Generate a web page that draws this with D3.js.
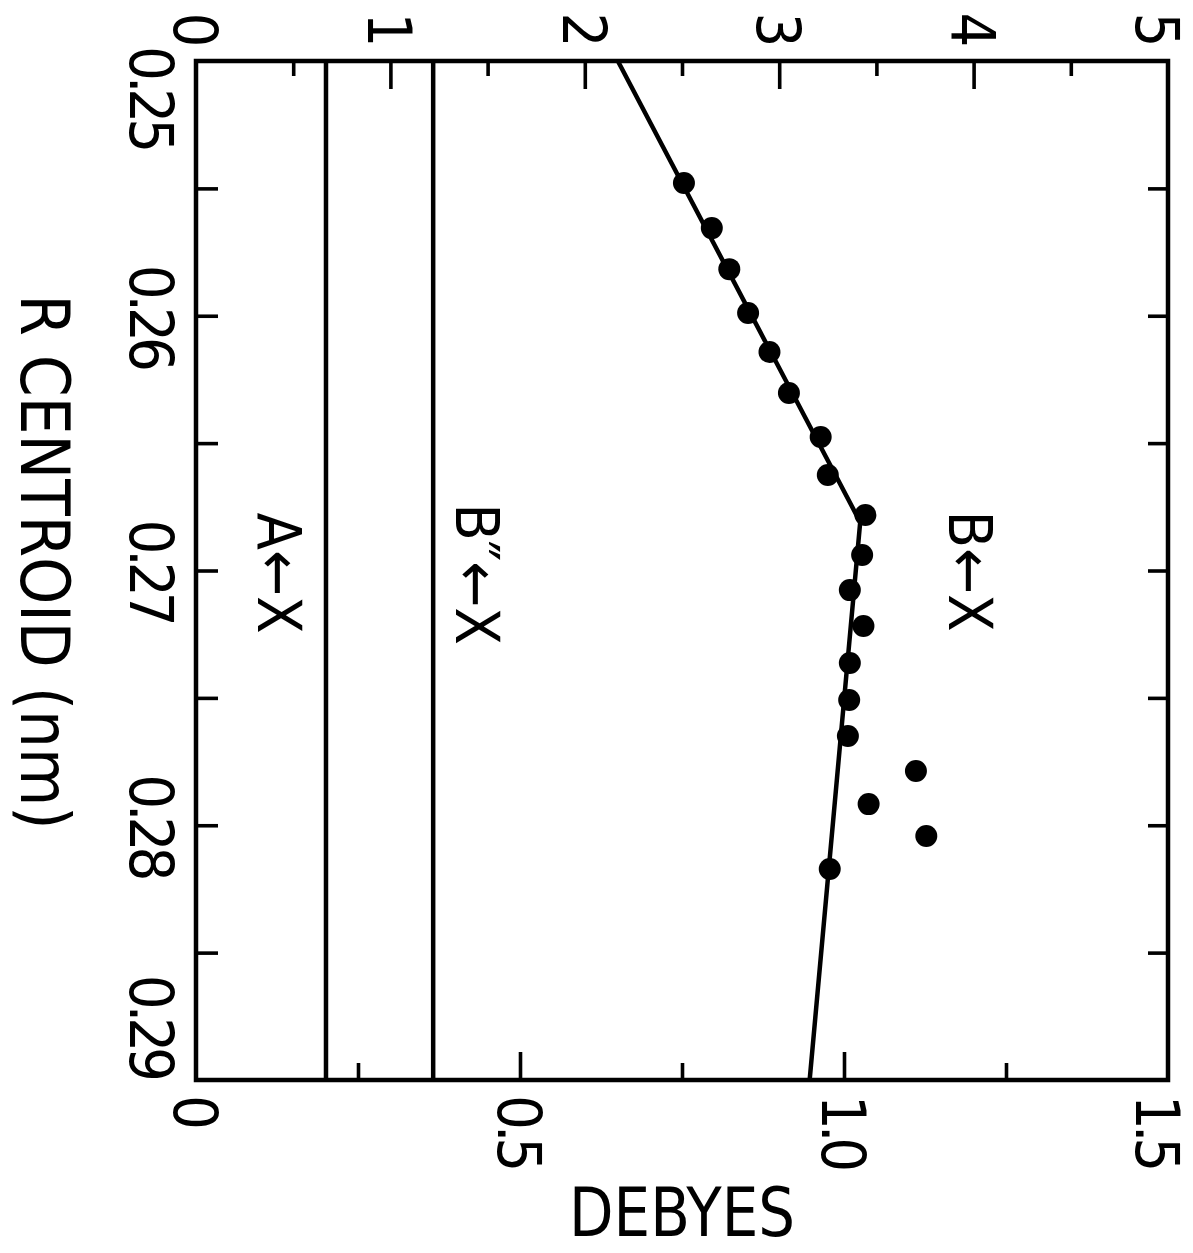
<!DOCTYPE html>
<html>
<head>
<meta charset="utf-8">
<script src="https://cdn.jsdelivr.net/npm/d3@7"></script>
<style>
  html, body { margin: 0; padding: 0; background: #fff; }
  svg { display: block; }
  text { font-family: 'Liberation Sans Narrow', 'DejaVu Sans Condensed', 'Liberation Sans', sans-serif; fill: #000; }
</style>
</head>
<body>
<svg id="chart" width="1193" height="1253"></svg>
<script>
// ---------------- data ----------------
// R centroid (nm) and transition moment (Debyes) for the B<-X band
const pointR = [0.25479, 0.25656, 0.25817, 0.25989, 0.26142, 0.26303, 0.26476, 0.26625, 0.26782, 0.26939,
                0.27077, 0.27218, 0.27363, 0.27508, 0.27650, 0.27787, 0.27917, 0.28042, 0.28172];
const pointD = [0.753, 0.796, 0.823, 0.852, 0.885, 0.915, 0.964, 0.975, 1.033, 1.028,
                1.009, 1.030, 1.009, 1.008, 1.006, 1.111, 1.038, 1.127, 0.978];
// fitted B<-X curve (piecewise linear)
const fitR = [0.25, 0.2681, 0.29];
const fitD = [0.651, 1.025, 0.947];
// constant transition moments
const constNames = ["A\u2190X", "B\u2033\u2190X"];
const constD = [0.2006, 0.366];
const bxName = "B\u2190X";
// ticks
const topTickValues = [0, 1, 2, 3, 4, 5];
const topMinor = [0.5, 1.5, 2.5, 3.5, 4.5];
const bottomTickValues = [0, 0.5, 1.0, 1.5];
const bottomTickLabels = ["0", "0.5", "1.0", "1.5"];
const bottomMinor = [0.25, 0.75, 1.25];
const leftTickValues = [0.25, 0.26, 0.27, 0.28, 0.29];
const leftTickLabels = ["0.25", "0.26", "0.27", "0.28", "0.29"];
const sideTicks = [0.255, 0.26, 0.265, 0.27, 0.275, 0.28, 0.285];
const xTitle = "DEBYES";
const yTitle = "R CENTROID (nm)";

// ---------------- layout ----------------
const L = 196, R = 1168, T = 61, B = 1080;
const svg = d3.select("#chart");
svg.append("rect").attr("width", 1193).attr("height", 1253).attr("fill", "#fff");

const x = d3.scaleLinear().domain([0, 1.5]).range([L, R]);
const xTop = d3.scaleLinear().domain([0, 5]).range([L, R]);
const y = d3.scaleLinear().domain([0.25, 0.29]).range([T, B]);

const FS = 61;

function styleAxis(g) {
  g.select(".domain").remove();
  g.selectAll(".tick line").attr("stroke", "#000").attr("stroke-width", 3.6);
  g.selectAll(".tick text").remove();
}
// top axis ticks (inward)
svg.append("g").attr("transform", `translate(0,${T})`)
  .call(d3.axisTop(xTop).tickValues([1, 2, 3, 4]).tickSize(-28).tickFormat("")).call(styleAxis);
svg.append("g").attr("transform", `translate(0,${T})`)
  .call(d3.axisTop(xTop).tickValues(topMinor).tickSize(-15).tickFormat("")).call(styleAxis);
// bottom axis ticks
svg.append("g").attr("transform", `translate(0,${B})`)
  .call(d3.axisBottom(x).tickValues([0.5, 1.0]).tickSize(-28).tickFormat("")).call(styleAxis);
svg.append("g").attr("transform", `translate(0,${B})`)
  .call(d3.axisBottom(x).tickValues(bottomMinor).tickSize(-17).tickFormat("")).call(styleAxis);
// left / right ticks
svg.append("g").attr("transform", `translate(${L},0)`)
  .call(d3.axisLeft(y).tickValues(sideTicks).tickSize(-22).tickFormat("")).call(styleAxis);
svg.append("g").attr("transform", `translate(${R},0)`)
  .call(d3.axisRight(y).tickValues(sideTicks).tickSize(-20).tickFormat("")).call(styleAxis);

// frame
svg.append("rect").attr("x", L).attr("y", T).attr("width", R - L).attr("height", B - T)
  .attr("fill", "none").attr("stroke", "#000").attr("stroke-width", 4.5);

// rotated text helper (reads top to bottom, glyph tops to the right)
function rtext(cx, cy, str, anchor, size, extra) {
  const cap = 0.72 * size;
  const t = svg.append("text")
    .attr("transform", `translate(${cx},${cy}) rotate(90)`)
    .attr("x", 0).attr("y", cap / 2)
    .attr("text-anchor", anchor)
    .attr("font-size", size)
    .text(str);
  if (extra) extra(t);
  return t;
}

// top labels
topTickValues.forEach(v => rtext(Math.min(xTop(v), 1158), 28, String(v), "middle", FS, t => t.attr("letter-spacing", -4)));
// bottom labels
bottomTickValues.forEach((v, i) => rtext(Math.min(x(v), 1158), 1095, bottomTickLabels[i], "start", FS, t => t.attr("letter-spacing", -5)));
// left labels
leftTickValues.forEach((v, i) => {
  let cy = y(v), anchor = "middle";
  if (i === 0) { cy = 46; anchor = "start"; }
  if (i === leftTickValues.length - 1) { cy = 1077; anchor = "end"; }
  rtext(152, cy, leftTickLabels[i], anchor, FS, t => t.attr("letter-spacing", -5));
});

// constant lines
constD.forEach(d => {
  svg.append("line").attr("x1", x(d)).attr("x2", x(d)).attr("y1", T).attr("y2", B)
    .attr("stroke", "#000").attr("stroke-width", 4.5);
});

// fitted curve
const fit = fitR.map((r, i) => [fitD[i], r]);
svg.append("path").datum(fit)
  .attr("d", d3.line().x(d => x(d[0])).y(d => y(d[1])))
  .attr("fill", "none").attr("stroke", "#000").attr("stroke-width", 4.5).attr("stroke-linejoin", "round");

// points
svg.append("g").selectAll("circle").data(pointR.map((r, i) => [pointD[i], r])).join("circle")
  .attr("cx", d => x(d[0])).attr("cy", d => y(d[1])).attr("r", 11).attr("fill", "#000");

// curve labels
rtext(280, 573, constNames[0], "middle", FS);
rtext(478, 574, constNames[1], "middle", FS);
rtext(971, 571, bxName, "middle", FS);

// axis titles
rtext(45, 562, yTitle, "middle", 68, t => t.attr("textLength", 535).attr("lengthAdjust", "spacingAndGlyphs"));
svg.append("text").attr("x", 682).attr("y", 1236).attr("text-anchor", "middle")
  .attr("font-size", 68).attr("textLength", 226).attr("lengthAdjust", "spacingAndGlyphs").text(xTitle);
</script>
</body>
</html>
